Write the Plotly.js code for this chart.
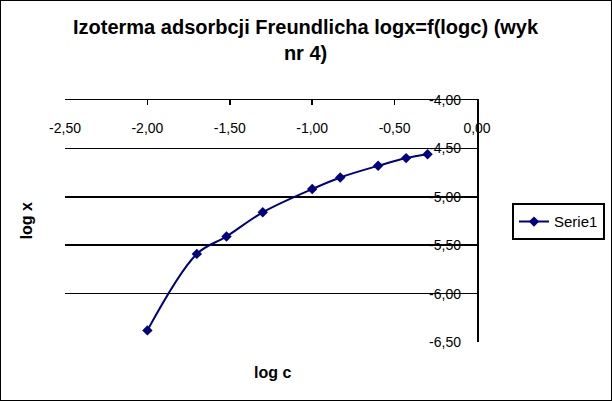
<!DOCTYPE html>
<html>
<head>
<meta charset="utf-8">
<script src="https://cdn.plot.ly/plotly-3.0.1.min.js"></script>
<style>
  html, body { margin: 0; padding: 0; background: #fff; }
  #chart { width: 612px; height: 401px; }
  #frame { position: absolute; left: 0; top: 0; width: 612px; height: 401px; box-sizing: border-box; border: 1px solid #000; pointer-events: none; }
</style>
</head>
<body>
<div id="chart"></div>
<div id="frame"></div>
<script>
const logC = [-2.00, -1.70, -1.52, -1.30, -1.00, -0.83, -0.60, -0.43, -0.30];
const logX = [-6.38, -5.59, -5.41, -5.16, -4.92, -4.80, -4.68, -4.60, -4.56];
const seriesName = 'Serie1';
const xTicks = [-2.5, -2.0, -1.5, -1.0, -0.5, 0];
const xTickText = ['-2,50', '-2,00', '-1,50', '-1,00', '-0,50', '0,00'];
const yTicks = [-6.5, -6.0, -5.5, -5.0, -4.5, -4.0];
const yTickText = ['-6,50', '-6,00', '-5,50', '-5,00', '-4,50', '-4,00'];

// plot area in pixels: x 65..477, y 100..342.3
const L = 65, R = 477, T = 100, B = 342.3;
const W = R - L, H = B - T;
const px = v => (v - L) / W;
const py = v => (B - v) / H;

const trace = {
  x: logC, y: logX, name: seriesName, type: 'scatter', mode: 'lines+markers',
  line: { color: '#000080', width: 2, shape: 'spline', smoothing: 1 },
  marker: { symbol: 'diamond', size: 8, color: '#000080' }
};
// invisible helper traces to activate label axes
const helperX = { x: [xTicks[0]], y: [yTicks[0]], xaxis: 'x2', yaxis: 'y', mode: 'markers', marker: { opacity: 0 }, showlegend: false, hoverinfo: 'skip' };
const helperY = { x: [xTicks[0]], y: [yTicks[0]], xaxis: 'x', yaxis: 'y2', mode: 'markers', marker: { opacity: 0 }, showlegend: false, hoverinfo: 'skip' };

const font = { family: 'Liberation Sans, Arial, sans-serif', color: '#000' };

const layout = {
  width: 612, height: 401,
  margin: { l: L, r: 612 - R, t: T, b: 401 - B, pad: 0, autoexpand: false },
  paper_bgcolor: '#fff', plot_bgcolor: '#fff',
  font: Object.assign({ size: 14 }, font),
  xaxis: {
    range: [-2.5, 0], tickvals: xTicks, showticklabels: false,
    side: 'top', ticks: 'inside', ticklen: 5, tickwidth: 1.5, tickcolor: '#000',
    showline: true, linecolor: '#000', linewidth: 1.5,
    showgrid: false, zeroline: false
  },
  xaxis2: {
    range: [-2.5, 0], tickvals: xTicks, ticktext: xTickText,
    overlaying: 'x', anchor: 'free', position: py(118), side: 'bottom',
    ticks: '', showline: false, showgrid: false, zeroline: false,
    tickfont: Object.assign({ size: 14 }, font)
  },
  yaxis: {
    range: [-6.5, -4], tickvals: yTicks, showticklabels: false,
    side: 'right', ticks: 'inside', ticklen: 15, tickwidth: 1.5, tickcolor: '#000',
    showline: true, linecolor: '#000', linewidth: 1.5,
    showgrid: true, gridcolor: '#000', gridwidth: 1.5, zeroline: false
  },
  yaxis2: {
    range: [-6.5, -4], tickvals: yTicks, ticktext: yTickText,
    overlaying: 'y', anchor: 'free', position: px(461), side: 'left',
    ticks: '', showline: false, showgrid: false, zeroline: false,
    tickfont: Object.assign({ size: 14 }, font)
  },
  showlegend: true,
  legend: {
    x: px(512), xanchor: 'left', xref: 'paper',
    y: py(222), yanchor: 'middle', yref: 'paper',
    bordercolor: '#000', borderwidth: 2, bgcolor: '#fff',
    font: Object.assign({ size: 15 }, font)
  },
  annotations: [
    { text: '<b>Izoterma adsorbcji Freundlicha logx=f(logc) (wyk<br>nr 4)</b>', xref: 'paper', yref: 'paper',
      x: px(306), y: py(40), xanchor: 'center', yanchor: 'middle', showarrow: false,
      font: Object.assign({ size: 20 }, font) },
    { text: '<b>log c</b>', xref: 'paper', yref: 'paper', x: px(272), y: py(373),
      xanchor: 'center', yanchor: 'middle', showarrow: false, font: Object.assign({ size: 16 }, font) },
    { text: '<b>log x</b>', xref: 'paper', yref: 'paper', x: px(26.5), y: py(221),
      xanchor: 'center', yanchor: 'middle', textangle: -90, showarrow: false, font: Object.assign({ size: 16 }, font) }
  ]
};

Plotly.newPlot('chart', [trace, helperX, helperY], layout, { displayModeBar: false, staticPlot: true });
</script>
</body>
</html>
